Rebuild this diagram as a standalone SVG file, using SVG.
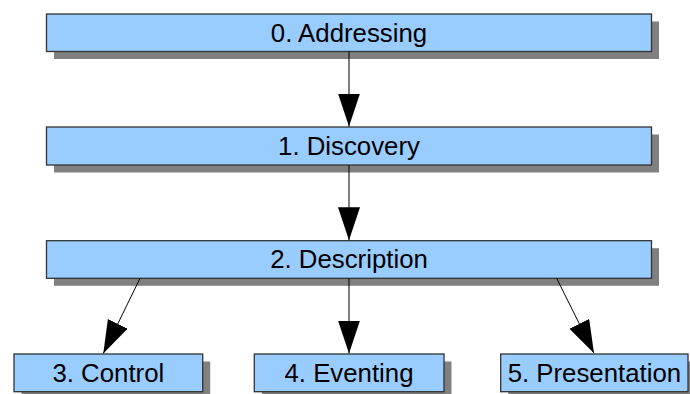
<svg xmlns="http://www.w3.org/2000/svg" width="690" height="394" viewBox="0 0 690 394">
<defs>
<style>
.shadow{fill:#808080;stroke:none}
.box{fill:#99ccff;stroke:#333333;stroke-width:1.3}
.lbl{font-family:"Liberation Sans",Arial,sans-serif;font-size:25.8px;fill:#000000;text-anchor:middle}
.conn{stroke:#000000;stroke-width:1;fill:none;marker-end:url(#arrow)}
</style>
<marker id="arrow" markerUnits="userSpaceOnUse" markerWidth="34" markerHeight="23" refX="33" refY="11" orient="auto" viewBox="0 0 34 23">
<path d="M0,0 L33,11 L0,22 z" fill="#000000"/>
</marker>
</defs>
<rect width="690" height="394" fill="#ffffff"/>
<g id="n0">
<rect class="shadow" x="54" y="21.5" width="605" height="37.5"/>
<rect class="box" x="46.5" y="14" width="605" height="37.5"/>
<text class="lbl" x="349" y="41.7">0. Addressing</text>
</g>
<g id="n1">
<rect class="shadow" x="54" y="134.5" width="605" height="38"/>
<rect class="box" x="46.5" y="127" width="605" height="38"/>
<text class="lbl" x="349" y="155">1. Discovery</text>
</g>
<g id="n2">
<rect class="shadow" x="54" y="248.2" width="605" height="37.6"/>
<rect class="box" x="46.5" y="240.7" width="605" height="37.6"/>
<text class="lbl" x="349" y="268.3">2. Description</text>
</g>
<g id="n3">
<rect class="shadow" x="21.5" y="361.5" width="188.7" height="37.7"/>
<rect class="box" x="14" y="354" width="188.7" height="37.7"/>
<text class="lbl" x="108.3" y="381.7">3. Control</text>
</g>
<g id="n4">
<rect class="shadow" x="261.8" y="361.5" width="189.7" height="37.7"/>
<rect class="box" x="254.3" y="354" width="189.7" height="37.7"/>
<text class="lbl" x="349" y="381.7">4. Eventing</text>
</g>
<g id="n5">
<rect class="shadow" x="508.2" y="361.5" width="187.3" height="37.7"/>
<rect class="box" x="500.7" y="354" width="187.3" height="37.7"/>
<text class="lbl" x="594.4" y="381.7">5. Presentation</text>
</g>
<g id="connectors">
<line class="conn" x1="349" y1="51.5" x2="349" y2="126.5"/>
<line class="conn" x1="349" y1="165" x2="349" y2="240.2"/>
<line class="conn" x1="140" y1="278.3" x2="103.3" y2="353.5"/>
<line class="conn" x1="349" y1="278.3" x2="349" y2="353.5"/>
<line class="conn" x1="556.7" y1="278.3" x2="594" y2="353.3"/>
</g>
</svg>
